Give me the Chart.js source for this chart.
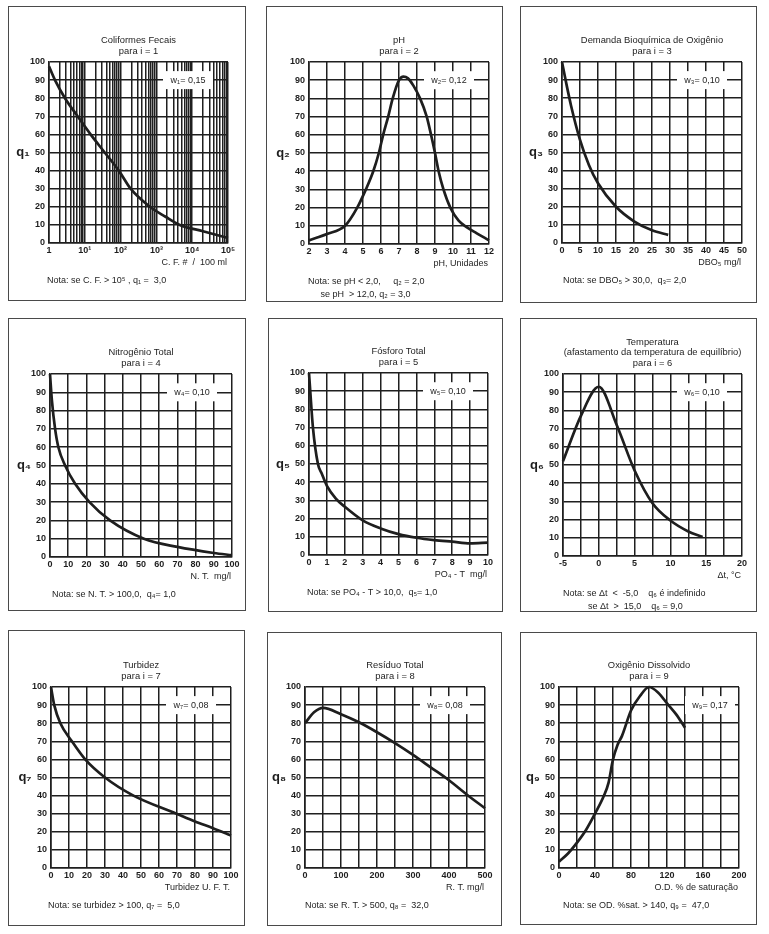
<!DOCTYPE html>
<html>
<head>
<meta charset="utf-8">
<script src="https://cdn.jsdelivr.net/npm/chart.js@4.4.0/dist/chart.umd.min.js"></script>
<style>
  body { margin: 0; background: #fff; width: 769px; height: 934px; position: relative; overflow: hidden; }
  .panel { position: absolute; outline: 1.5px solid #4a4a4a; outline-offset: -1px; }
  .panel canvas { position: absolute; left: 0; top: 0; }
</style>
</head>
<body>
<script>
// ---- data ----
const qTicks = [0, 10, 20, 30, 40, 50, 60, 70, 80, 90, 100];

const cfX = [1, 1.47, 2.8, 6.3, 14.5, 36, 89, 190, 660, 1800, 4500, 20000, 100000];
const cfQ = [97.6, 90, 80, 70, 60, 50, 40, 30, 20, 14.5, 10, 6.5, 2.8];
const cfTicks = [1, 10, 100, 1000, 10000, 100000];
const cfLabels = ['1', '10¹', '10²', '10³', '10⁴', '10⁵'];

const phX = [2, 3, 4, 4.68, 5.16, 5.57, 5.88, 6.12, 6.4, 6.65, 7.0, 7.25, 7.5, 7.8, 8.17, 8.54, 8.78, 9.0, 9.2, 9.47, 9.85, 10.3, 10.8, 11.3, 12];
const phQ = [2, 5.5, 10, 20, 30, 40, 50, 60, 70, 80, 90, 92, 91, 87, 80, 70, 60, 50, 40, 30, 20, 13, 9, 6, 2];
const phTicks = [2, 3, 4, 5, 6, 7, 8, 9, 10, 11, 12];

const dboX = [0, 1, 2.5, 5, 7.5, 10, 15, 20, 25, 29.5];
const dboQ = [100, 90, 76, 57, 43, 33, 20, 12, 7, 4.5];
const dboTicks = [0, 5, 10, 15, 20, 25, 30, 35, 40, 45, 50];

const ntX = [0, 1, 2.8, 4.6, 8.3, 13.8, 21.7, 33, 51.6, 70, 90, 100];
const ntQ = [100, 86, 70, 60, 50, 40, 30, 20, 10, 5.5, 2.2, 1];
const ntTicks = [0, 10, 20, 30, 40, 50, 60, 70, 80, 90, 100];

const ptX = [0, 0.07, 0.22, 0.5, 0.7, 1, 1.5, 2, 3, 4, 5, 6, 7, 8, 9, 10];
const ptQ = [100, 90, 70, 50, 45, 38, 31, 26.5, 19, 14.6, 11.5, 9.5, 8.2, 7.3, 6.4, 6.8];
const ptTicks = [0, 1, 2, 3, 4, 5, 6, 7, 8, 9, 10];

const tX = [-5, -2.5, 0, 2.5, 5, 7.5, 10, 12.5, 14.5];
const tQ = [52, 77, 93, 72, 47, 29, 19.5, 13.5, 10.5];
const tTicks = [-5, 0, 5, 10, 15, 20];

const tuX = [0, 1.8, 5.2, 11.6, 19, 30, 45.8, 69.7, 80, 90, 100];
const tuQ = [100, 90, 80, 70, 60, 50, 40, 30, 25.7, 22, 18];
const tuTicks = [0, 10, 20, 30, 40, 50, 60, 70, 80, 90, 100];

const rtX = [0, 25, 50, 100, 150, 200, 250, 300, 350, 400, 450, 500];
const rtQ = [80, 86, 88.5, 85, 80.5, 75, 69, 62.5, 55.5, 48.5, 40.5, 33];
const rtTicks = [0, 100, 200, 300, 400, 500];

const odX = [0, 10, 20, 30, 40, 50, 55, 60, 65, 70, 80, 90, 100, 110, 120, 130, 140];
const odQ = [3.5, 8, 14, 21, 30, 40, 47, 60, 68, 73, 87, 95, 100, 97, 91, 85, 77.5];
const odTicks = [0, 40, 80, 120, 160, 200];

// ---- panel layout (page px): box = frame, plot = chart area ----
const panels = [
  { box: [8, 6, 238, 295], plot: [49, 62, 228, 243], x: cfX, q: cfQ, log: true, min: 1, max: 100000, labels: cfTicks,
    title: ['Coliformes Fecais', 'para i = 1'], w: 'w₁= 0,15', ql: 'q₁', xt: 'C. F. #  /  100 ml',
    note: ['Nota: se C. F. > 10⁵ , q₁ =  3,0'], nx: -2 },
  { box: [266, 6, 237, 296], plot: [309, 62, 489, 244], x: phX, q: phQ, min: 2, max: 12, step: 1, labels: phTicks,
    title: ['pH', 'para i = 2'], w: 'w₂= 0,12', ql: 'q₂', xt: 'pH, Unidades',
    note: ['Nota: se pH < 2,0,     q₂ = 2,0', '     se pH  > 12,0, q₂ = 3,0'], nx: -1 },
  { box: [520, 6, 237, 297], plot: [562, 62, 742, 243], x: dboX, q: dboQ, min: 0, max: 50, step: 5, labels: dboTicks,
    title: ['Demanda Bioquímica de Oxigênio', 'para i = 3'], w: 'w₃= 0,10', ql: 'q₃', xt: 'DBO₅ mg/l',
    note: ['Nota: se DBO₅ > 30,0,  q₃= 2,0'], nx: 1 },
  { box: [8, 318, 238, 293], plot: [50, 374, 232, 557], x: ntX, q: ntQ, min: 0, max: 100, step: 10, labels: ntTicks,
    title: ['Nitrogênio Total', 'para i = 4'], w: 'w₄= 0,10', ql: 'q₄', xt: 'N. T.  mg/l',
    note: ['Nota: se N. T. > 100,0,  q₄= 1,0'], nx: 2 },
  { box: [268, 318, 235, 294], plot: [309, 373, 488, 555], x: ptX, q: ptQ, min: 0, max: 10, step: 1, labels: ptTicks,
    title: ['Fósforo Total', 'para i = 5'], w: 'w₅= 0,10', ql: 'q₅', xt: 'PO₄ - T  mg/l',
    note: ['Nota: se PO₄ - T > 10,0,  q₅= 1,0'], nx: -2 },
  { box: [520, 318, 237, 294], plot: [563, 374, 742, 556], x: tX, q: tQ, min: -5, max: 20, step: 2.5, labels: tTicks,
    title: ['Temperatura', '(afastamento da temperatura de equilíbrio)', 'para i = 6'], w: 'w₆= 0,10', ql: 'q₆', xt: 'Δt, °C',
    note: ['Nota: se Δt  <  -5,0    q₆ é indefinido', '          se Δt  >  15,0    q₆ = 9,0'], nx: 0 },
  { box: [8, 630, 237, 296], plot: [51, 687, 231, 868], x: tuX, q: tuQ, min: 0, max: 100, step: 10, labels: tuTicks,
    title: ['Turbidez', 'para i = 7'], w: 'w₇= 0,08', ql: 'q₇', xt: 'Turbidez U. F. T.',
    note: ['Nota: se turbidez > 100, q₇ =  5,0'], nx: -3 },
  { box: [267, 632, 235, 294], plot: [305, 687, 485, 868], x: rtX, q: rtQ, min: 0, max: 500, step: 50, labels: rtTicks,
    title: ['Resíduo Total', 'para i = 8'], w: 'w₈= 0,08', ql: 'q₈', xt: 'R. T. mg/l',
    note: ['Nota: se R. T. > 500, q₈ =  32,0'], nx: 0 },
  { box: [520, 632, 237, 293], plot: [559, 687, 739, 868], x: odX, q: odQ, min: 0, max: 200, step: 20, labels: odTicks,
    title: ['Oxigênio Dissolvido', 'para i = 9'], w: 'w₉= 0,17', ql: 'q₉', xt: 'O.D. % de saturação',
    note: ['Nota: se OD. %sat. > 140, q₉ =  47,0'], nx: 4, wOff: 29 }
];

const FONT = '"Liberation Sans", Arial, sans-serif';
const INK = '#1e1e1e';

// draws titles, w-label box, q label, axis title and notes
const decor = {
  id: 'decor',
  beforeDatasetsDraw(chart, args, o) {
    const { ctx, chartArea: a, scales } = chart;
    const cx = a.right - o.wOff;
    const cy = scales.y.getPixelForValue(90);
    ctx.save();
    ctx.fillStyle = '#fff';
    ctx.fillRect(cx - 25, cy - 9, 50, 18);
    ctx.fillStyle = INK;
    ctx.font = '9px ' + FONT;
    ctx.textAlign = 'center';
    ctx.textBaseline = 'middle';
    ctx.fillText(o.w, cx, cy);
    ctx.restore();
  },
  afterDraw(chart, args, o) {
    const { ctx, chartArea: a, scales } = chart;
    ctx.save();
    ctx.fillStyle = INK;
    ctx.textBaseline = 'middle';
    ctx.font = '9.4px ' + FONT;
    ctx.textAlign = 'center';
    const mid = (a.left + a.right) / 2;
    o.title.forEach((t, i) => {
      ctx.fillText(t, mid, a.top - 11 - (o.title.length - 1 - i) * 10.5);
    });
    ctx.font = '9px ' + FONT;
    ctx.textAlign = 'right';
    ctx.fillText(o.xt, a.right - 1, a.bottom + 20);
    ctx.textAlign = 'left';
    o.note.forEach((t, i) => {
      ctx.fillText(t, a.left + o.nx, a.bottom + 38 + i * 12.5);
    });
    ctx.font = 'bold 13px ' + FONT;
    ctx.textAlign = 'center';
    ctx.fillText(o.ql, a.left - 26, scales.y.getPixelForValue(50));
    ctx.restore();
  }
};

panels.forEach(p => {
  const [bx, by, bw, bh] = p.box;
  const [pl, pt, pr, pb] = p.plot;
  const div = document.createElement('div');
  div.className = 'panel';
  div.style.cssText = `left:${bx}px;top:${by}px;width:${bw}px;height:${bh}px`;
  const cv = document.createElement('canvas');
  cv.width = bw; cv.height = bh;
  cv.style.width = bw + 'px'; cv.style.height = bh + 'px';
  div.appendChild(cv);
  document.body.appendChild(div);

  const YW = 30, XH = 20;
  const tickFont = { family: FONT, size: 9, weight: 'bold' };
  const grid = { color: '#1f1f1f', lineWidth: 1.5, drawTicks: false };
  const border = { color: '#1f1f1f', width: 1.6 };

  const xScale = p.log ? {
    type: 'logarithmic', min: p.min, max: p.max,
    afterBuildTicks: s => {
      const t = [];
      for (let d = 1; d < p.max; d *= 10) for (let k = 1; k < 10; k++) t.push({ value: d * k });
      t.push({ value: p.max });
      s.ticks = t;
    },
    ticks: {
      autoSkip: false, maxRotation: 0, padding: 2, color: INK, font: tickFont,
      callback: v => { const i = cfTicks.indexOf(v); return i >= 0 ? cfLabels[i] : ''; }
    }
  } : {
    type: 'linear', min: p.min, max: p.max,
    ticks: {
      stepSize: p.step, autoSkip: false, maxRotation: 0, padding: 2, color: INK, font: tickFont,
      callback: v => p.labels.includes(v) ? String(v) : ''
    }
  };
  xScale.grid = grid;
  xScale.border = border;
  xScale.afterFit = s => { s.height = XH; };

  new Chart(cv.getContext('2d'), {
    type: 'scatter',
    data: {
      datasets: [{
        data: p.x.map((v, i) => ({ x: v, y: p.q[i] })),
        showLine: true,
        pointRadius: 0,
        borderColor: INK,
        borderWidth: 2.7,
        cubicInterpolationMode: 'monotone',
        clip: 3
      }]
    },
    options: {
      responsive: false,
      animation: false,
      events: [],
      layout: {
        autoPadding: false,
        padding: { left: pl - bx - YW, top: pt - by, right: bx + bw - pr, bottom: by + bh - pb - XH }
      },
      scales: {
        x: xScale,
        y: {
          type: 'linear', min: 0, max: 100,
          afterBuildTicks: s => { s.ticks = qTicks.map(v => ({ value: v })); },
          afterFit: s => { s.width = YW; },
          grid: grid, border: border,
          ticks: { padding: 4, color: INK, font: tickFont }
        }
      },
      plugins: {
        legend: { display: false },
        tooltip: { enabled: false },
        decor: { title: p.title, w: p.w, ql: p.ql, xt: p.xt, note: p.note, nx: p.nx, wOff: p.wOff || 40 }
      }
    },
    plugins: [decor]
  });
});
</script>
</body>
</html>
